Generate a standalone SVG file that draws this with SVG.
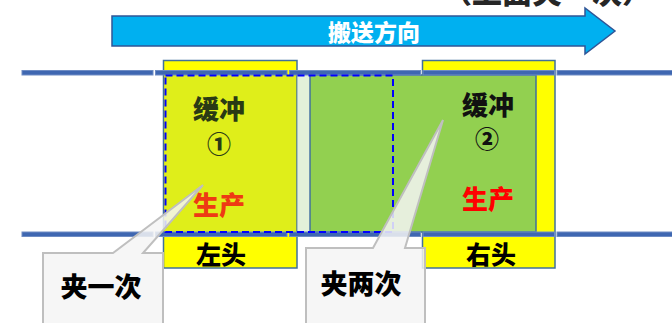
<svg xmlns="http://www.w3.org/2000/svg" width="672" height="323" viewBox="0 0 672 323">
<style>
.cjk{font-family:"Noto Sans CJK SC","Noto Sans CJK JP",sans-serif;font-weight:900;text-anchor:middle;dominant-baseline:central}
.rail{fill:#3F67B1;stroke:#6E8CC4;stroke-width:1}
.frame{stroke:#41719C;stroke-width:1.5}
.callout{fill:#F4F4F4;fill-opacity:0.85;stroke:#BFBFBF;stroke-width:2}
</style>
<rect width="672" height="323" fill="#FFFFFF"/>
<text class="cjk" x="547" y="-10" font-size="30" fill="#262626">（上面夹一次）</text>
<g id="direction-arrow">
<path d="M112 16 H585 V8 L615 31 L585 54 V46 H112 Z" fill="#00B0F0" stroke="#2F5597" stroke-width="1.5"/>
<text class="cjk" x="374" y="31" font-size="23" fill="#FFFFFF">搬送方向</text>
</g>
<g id="left-head">
<rect class="frame" x="163.5" y="60.5" width="133.5" height="207.5" fill="#FFFF00"/>
<rect x="165" y="75" width="131" height="157" fill="#DFEE1A"/>
<text class="cjk" x="221" y="253" font-size="25" fill="#000000">左头</text>
</g>
<g id="right-head">
<rect class="frame" x="422.5" y="60.5" width="132.5" height="207.5" fill="#FFFF00"/>
<text class="cjk" x="491" y="253" font-size="25" fill="#000000">右头</text>
</g>
<g id="gap-strip">
<rect x="297.5" y="75" width="12" height="157" fill="#E2F0D9"/>
</g>
<g id="buffer2">
<rect class="frame" x="310" y="75" width="226" height="157" fill="#92D050"/>
<text class="cjk" x="488" y="103" font-size="26" fill="#111111">缓冲</text>
<text class="cjk" x="487" y="137" font-size="24" fill="#111111">②</text>
<text class="cjk" x="488" y="197" font-size="26" fill="#FF0000">生产</text>
</g>
<g id="buffer1">
<text class="cjk" x="219" y="107" font-size="26" fill="#2A3A14">缓冲</text>
<text class="cjk" x="219" y="142" font-size="24" fill="#2A3A14">①</text>
<text class="cjk" x="219" y="203" font-size="26" fill="#EE3A14">生产</text>
</g>
<g id="rails">
<rect class="rail" x="22" y="70.5" width="131" height="4.5"/>
<rect class="rail" x="155.5" y="70.5" width="131.5" height="4.5"/>
<rect class="rail" x="289.5" y="70.5" width="131" height="4.5"/>
<rect class="rail" x="423" y="70.5" width="131.5" height="4.5"/>
<rect class="rail" x="557" y="70.5" width="116" height="4.5"/>
<rect class="rail" x="22" y="232" width="131" height="4.5"/>
<rect class="rail" x="155.5" y="232" width="131.5" height="4.5"/>
<rect class="rail" x="289.5" y="232" width="131" height="4.5"/>
<rect class="rail" x="423" y="232" width="131.5" height="4.5"/>
<rect class="rail" x="557" y="232" width="116" height="4.5"/>
</g>
<g id="clamp-range">
<rect x="165.5" y="75.5" width="227.5" height="156.5" fill="none" stroke="#0000FF" stroke-width="2" stroke-dasharray="7,4"/>
</g>
<g id="callout-once">
<path class="callout" d="M43 253 H113 L203 185 L143 253 H163 V330 H43 Z"/>
<text class="cjk" x="101" y="285" font-size="27" fill="#000000">夹一次</text>
</g>
<g id="callout-twice">
<path class="callout" d="M306 248 H373 L443 120 L405 248 H425 V330 H306 Z"/>
<text class="cjk" x="361" y="282" font-size="27" fill="#000000">夹两次</text>
</g>
</svg>
